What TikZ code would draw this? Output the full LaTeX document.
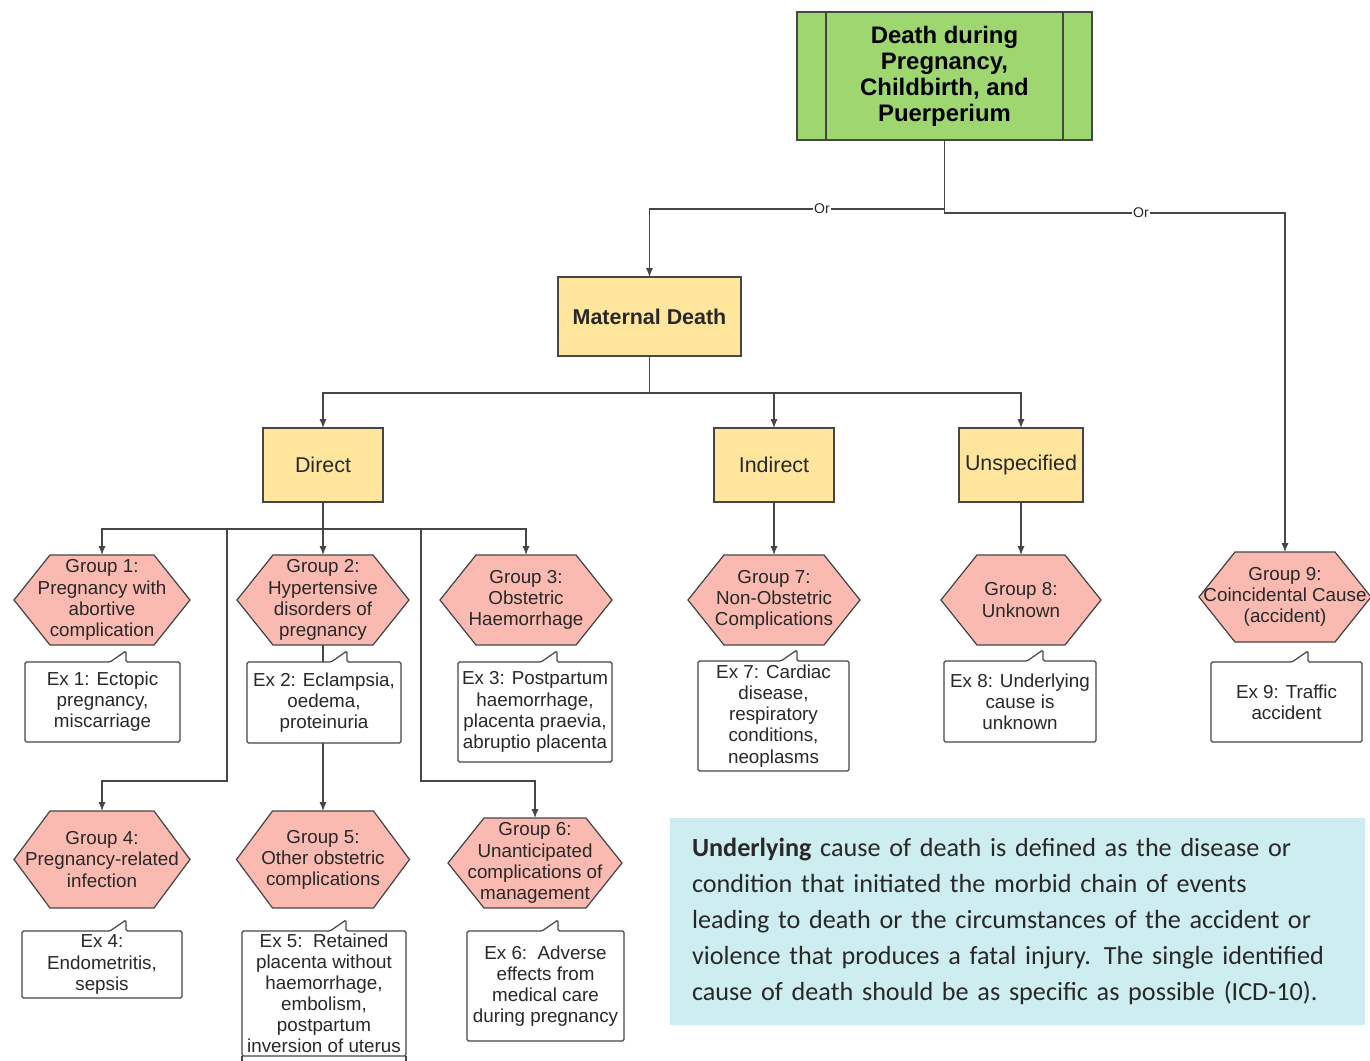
\documentclass[tikz,border=0pt]{standalone}
\usepackage{fontspec}
\setmainfont{Liberation Sans}
\newfontfamily\notefont{Carlito}
\usetikzlibrary{arrows.meta}
\definecolor{deathgreen}{RGB}{158,215,112}
\definecolor{boxyellow}{RGB}{255,230,156}
\definecolor{hexpink}{RGB}{250,186,177}
\definecolor{notecyan}{RGB}{206,237,240}
\definecolor{linegray}{RGB}{70,70,70}
\definecolor{txtgray}{RGB}{40,40,40}
% hexagon: name, x, y, width, height, text
\newcommand{\hexnode}[6]{
    \draw[hexline] ({#2-#4/2},#3)--({#2-#4/2+36},{#3-#5/2})--({#2+#4/2-36},{#3-#5/2})
        --({#2+#4/2},#3)--({#2+#4/2-36},{#3+#5/2})--({#2-#4/2+36},{#3+#5/2})--cycle;
    \node[grouptext,minimum width=#4*0.02cm,minimum height=#5*0.02cm] (#1) at (#2,#3) {#6};
}
% callout: name, left, top, right, bottom, tip x, text
\newcommand{\callout}[7]{
    \draw[calloutline] (#2,#3)--({#6-16},#3)--(#6,{#3-11})--(#6,#3)--(#4,#3)--(#4,#5)--(#2,#5)--cycle;
    \node[extext] (#1) at ({(#2+#4)/2},{(#3+#5)/2}) {#7};
}

\begin{document}
\begin{tikzpicture}[x=0.02cm,y=-0.02cm,
    arr/.style={draw=linegray,line width=0.7pt,-{Latex[length=5pt,width=4pt]}},
    hexline/.style={draw=linegray,line width=0.7pt,fill=hexpink},
    calloutline/.style={draw=linegray,line width=0.7pt,fill=white,rounded corners=0.8pt},
    grouptext/.style={inner sep=0pt,outer sep=0pt,align=center,text=txtgray,font=\fontsize{10.7}{12}\selectfont},
    extext/.style={inner sep=0pt,align=center,text=txtgray,font=\fontsize{10.7}{12}\selectfont},
    catbox/.style={draw=linegray,line width=0.7pt,fill=boxyellow,minimum height=1.48cm,inner sep=0pt,outer sep=0pt,text=txtgray,font=\fontsize{12.2}{14.6}\selectfont},
    orlabel/.style={fill=white,inner sep=0.6pt,text=txtgray,font=\fontsize{8}{9}\selectfont}]
\clip (0,0) rectangle (1370,1061);
\fill[white] (0,0) rectangle (1370,1061);

% top level
\node[draw=linegray,line width=0.7pt,fill=deathgreen,minimum width=5.9cm,minimum height=2.56cm,outer sep=0pt,
    align=center,font=\bfseries\fontsize{13.6}{14.8}\selectfont] (death) at (944.5,76)
    {Death during\\Pregnancy,\\Childbirth, and\\Puerperium};
\draw[linegray,line width=0.7pt] ([xshift=0.58cm]death.north west)--([xshift=0.58cm]death.south west);
\draw[linegray,line width=0.7pt] ([xshift=-0.58cm]death.north east)--([xshift=-0.58cm]death.south east);

\node[catbox,minimum width=3.66cm,minimum height=1.58cm,font=\bfseries\fontsize{12.2}{14.6}\selectfont] (maternal) at (649.5,316.5) {Maternal Death};
\node[catbox,minimum width=2.4cm] (direct) at (323,465) {Direct};
\node[catbox,minimum width=2.4cm] (indirect) at (774,465) {Indirect};
\node[catbox,minimum width=2.48cm] (unspec) at (1021,465) {Unspecified};

% groups
\hexnode{g1}{102}{600}{176}{90}{Group 1:\\Pregnancy with\\abortive\\complication}
\hexnode{g2}{323}{600}{172}{90}{Group 2:\\Hypertensive\\disorders of\\pregnancy}
\hexnode{g3}{526}{600}{172}{90}{Group 3:\\Obstetric\\Haemorrhage}
\hexnode{g7}{774}{600}{172}{90}{Group 7:\\Non-Obstetric\\Complications}
\hexnode{g8}{1021}{600}{160}{90}{Group 8:\\Unknown}
\hexnode{g9}{1285}{597}{172}{90}{Group 9:\\Coincidental Cause\\(accident)}
\hexnode{g4}{102}{859.5}{176}{97}{Group 4:\\Pregnancy-related\\infection}
\hexnode{g5}{323}{859.5}{173}{97}{Group 5:\\Other obstetric\\complications}
\hexnode{g6}{535}{863}{174}{90}{Group 6:\\Unanticipated\\complications of\\management}

% connectors
\coordinate (splitL) at (944.5,209);
\coordinate (splitR) at (944.5,213);
\coordinate (mbus) at (649.5,393);
\coordinate (dbus) at (323,529);
\coordinate (j4) at (227,781);
\coordinate (j6) at (421,781);
\draw[arr] (death.south)--(splitL)-|(maternal.north);
\draw[arr] (death.south)--(splitR)-|(g9.north);
\node[orlabel] (orA) at (822,209) {Or};
\node[orlabel] (orB) at (1141,213) {Or};
\draw[arr] (maternal.south)--(mbus)-|(direct.north);
\draw[arr] (mbus)-|(indirect.north);
\draw[arr] (mbus)-|(unspec.north);
\draw[arr] (direct.south)--(dbus)-|(g1.north);
\draw[arr] (dbus)-|(g3.north);
\draw[arr] (direct.south)--(g2.north);
\draw[arr] (dbus)-|(j4)-|(g4.north);
\draw[arr] (dbus)-|(j6)-|(g6.north);
\draw[arr] (g2.south)--(g5.north);
\draw[arr] (indirect.south)--(g7.north);
\draw[arr] (unspec.south)--(g8.north);

% examples
\callout{ex1}{25}{662}{180}{742}{126}{Ex 1: Ectopic\\pregnancy,\\miscarriage}
\callout{ex2}{247}{662}{401}{743}{347}{Ex 2: Eclampsia,\\oedema,\\proteinuria}
\callout{ex3}{458}{662}{612}{762}{557}{Ex 3: Postpartum\\haemorrhage,\\placenta praevia,\\abruptio placenta}
\callout{ex7}{698}{661}{849}{771}{797}{Ex 7: Cardiac\\disease,\\respiratory\\conditions,\\neoplasms}
\callout{ex8}{944}{661}{1096}{742}{1043}{Ex 8: Underlying\\cause is\\unknown}
\callout{ex9}{1211}{662}{1362}{742}{1308}{Ex 9: Traffic\\accident}
\callout{ex4}{22}{931}{182}{998}{126}{Ex 4:\\Endometritis,\\sepsis}
\callout{ex5}{242}{931}{406}{1056}{346}{Ex 5:\ \ Retained\\placenta without\\haemorrhage,\\embolism,\\postpartum\\inversion of uterus}
\draw[linegray,line width=0.7pt] (242,1056)--(242,1070) (406,1056)--(406,1070);
\callout{ex6}{467}{931}{624}{1041}{558}{Ex 6:\ \ Adverse\\effects from\\medical care\\during pregnancy}

% definition note
\node[fill=notecyan,minimum width=13.9cm,minimum height=4.14cm,text width=13.02cm,inner xsep=0.44cm,align=left,
    font=\notefont\fontsize{14.9}{20.5}\selectfont,text=txtgray] (note) at (1017.5,921.5)
    {\textbf{Underlying} cause of death is defined as the disease or\\
    condition that initiated the morbid chain of events\\
    leading to death or the circumstances of the accident or\\
    violence that produces a fatal injury. The single identified\\
    cause of death should be as specific as possible (ICD-10).};
\end{tikzpicture}
\end{document}
